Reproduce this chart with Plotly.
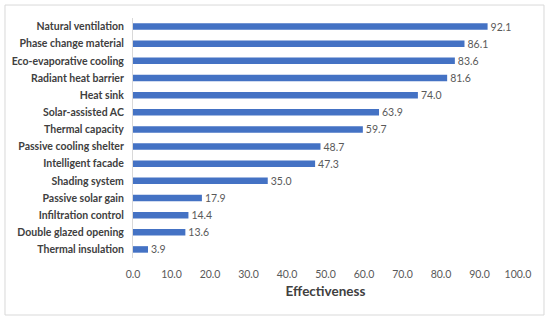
import plotly.graph_objects as go

categories = ["Natural ventilation", "Phase change material", "Eco-evaporative cooling",
              "Radiant heat barrier", "Heat sink", "Solar-assisted AC", "Thermal capacity",
              "Passive cooling shelter", "Intelligent facade", "Shading system",
              "Passive solar gain", "Infiltration control", "Double glazed opening",
              "Thermal insulation"]
values = [92.1, 86.1, 83.6, 81.6, 74.0, 63.9, 59.7, 48.7, 47.3, 35.0, 17.9, 14.4, 13.6, 3.9]
x_ticks = [0, 10, 20, 30, 40, 50, 60, 70, 80, 90, 100]
x_title = "Effectiveness"

FONT = "Lato, Liberation Sans, sans-serif"

fig = go.Figure(go.Bar(
    y=categories, x=values, orientation="h",
    marker=dict(color="#4472C4", line=dict(width=0)),
    text=[f"{v:.1f}" for v in values], textposition="outside",
    textfont=dict(color="#595959", size=10.5, family=FONT),
    constraintext="none",
    cliponaxis=False,
))

fig.update_layout(
    width=550, height=322,
    margin=dict(l=133, r=32, t=18, b=64),
    paper_bgcolor="white", plot_bgcolor="white",
    bargap=0.62, showlegend=False,
    font=dict(family=FONT),
    shapes=[dict(type="rect", xref="paper", yref="paper",
                 x0=-0.3325, x1=1.0675, y0=-0.2375, y1=1.054,
                 line=dict(color="#d9d9d9", width=1), fillcolor="rgba(0,0,0,0)", layer="below")],
)
fig.update_yaxes(autorange="reversed", showline=True, linecolor="#d9d9d9", linewidth=1,
                 ticks="", ticklabelstandoff=6, automargin=False,
                 tickfont=dict(color="#404040", size=10.5, family=FONT, weight="bold"),
                 showgrid=False)
fig.update_xaxes(range=[0, 100], tickvals=x_ticks, ticktext=[f"{t:.1f}" for t in x_ticks],
                 showgrid=False, zeroline=False, showline=False, ticks="", automargin=False,
                 ticklabelstandoff=8,
                 tickfont=dict(color="#595959", size=10.5, family=FONT),
                 title=dict(text=x_title, font=dict(size=13.5, color="#404040", family=FONT, weight="bold"),
                            standoff=8))

fig.write_html("out.html", config={"displayModeBar": False},
               post_script="document.body.style.margin='0';")
